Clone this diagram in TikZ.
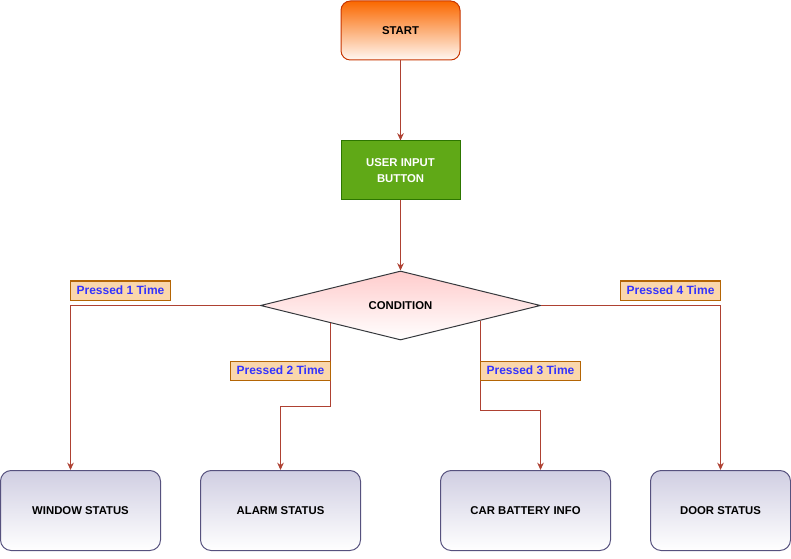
\documentclass[tikz,border=0pt]{standalone}
\usepackage{fontspec}
\setmainfont{Liberation Sans}
\usetikzlibrary{shapes.geometric,arrows.meta,calc}
\definecolor{linkred}{HTML}{AE4132}
\definecolor{startorange}{HTML}{FA6800}
\definecolor{startline}{HTML}{C73500}
\definecolor{inputgreen}{HTML}{60A917}
\definecolor{inputline}{HTML}{2D7600}
\definecolor{condpink}{HTML}{FFCCCC}
\definecolor{condline}{HTML}{36393D}
\definecolor{statfill}{HTML}{D0CEE2}
\definecolor{statline}{HTML}{56517E}
\definecolor{tagfill}{HTML}{FAD7AC}
\definecolor{tagline}{HTML}{B46504}
\definecolor{tagtext}{HTML}{3333FF}
\tikzset{
  flow/.style={draw=linkred, line width=0.75pt, -{Stealth[length=5.5pt,width=5pt]}},
  status/.style={draw=statline, line width=0.75pt, rounded corners=8pt, top color=statfill, bottom color=white,
    minimum height=60pt, font=\bfseries\fontsize{8.5}{10}\selectfont, align=center},
  tag/.style={draw=tagline, line width=0.75pt, fill=tagfill, text=tagtext, minimum width=75pt, minimum height=14.25pt,
    inner sep=0pt, font=\bfseries\fontsize{9}{10}\selectfont}
}
\begin{document}
\begin{tikzpicture}[x=0.75pt,y=0.75pt,yscale=-1]
\useasboundingbox (0,0) rectangle (791,559);
\node [draw=startline, line width=0.75pt, rounded corners=7pt, top color=startorange, bottom color=white!95!startorange,
  minimum width=89.25pt, minimum height=44.25pt, font=\bfseries\fontsize{8.5}{10}\selectfont] (start) at (400.5,30.5) {START};
\node [draw=inputline, line width=0.75pt, fill=inputgreen, text=white, minimum width=89.25pt, minimum height=44.25pt,
  align=center, font=\bfseries\fontsize{8.5}{12}\selectfont] (input) at (400.5,170.5) {USER INPUT\\BUTTON};
\node [diamond, aspect=4, draw=condline, line width=0.75pt, top color=condpink, bottom color=white, inner sep=0pt,
  minimum width=210pt, minimum height=51.75pt, font=\bfseries\fontsize{8.5}{10}\selectfont] (cond) at (400.5,305.5) {CONDITION};
\node [status, minimum width=120pt] (window) at (80.5,510.5) {WINDOW STATUS};
\node [status, minimum width=120pt] (alarm) at (280.5,510.5) {ALARM STATUS};
\node [status, minimum width=127.5pt] (battery) at (525.5,510.5) {CAR BATTERY INFO};
\node [status, minimum width=105pt] (door) at (720.5,510.5) {DOOR STATUS};
\coordinate (left2) at ($(cond.west)!0.5!(cond.south)$);
\coordinate (right3) at ($(cond.east)!0.43!(cond.south)$);
\draw [flow] (start) -- (input);
\draw [flow] (input) -- (cond);
\draw [flow] (cond.west) -| ([xshift=-7.5pt]window.north);
\draw [flow] (left2) -- ++(0,83) -| (alarm.north);
\draw [flow] (right3) -- ++(0,90) -| ([xshift=11.25pt]battery.north);
\draw [flow] (cond.east) -| (door.north);
\node [tag] (tag1) at (120.5,290.5) {Pressed 1 Time};
\node [tag] (tag2) at (280.5,370.5) {Pressed 2 Time};
\node [tag] (tag3) at (530.5,370.5) {Pressed 3 Time};
\node [tag] (tag4) at (670.5,290.5) {Pressed 4 Time};
\end{tikzpicture}
\end{document}
